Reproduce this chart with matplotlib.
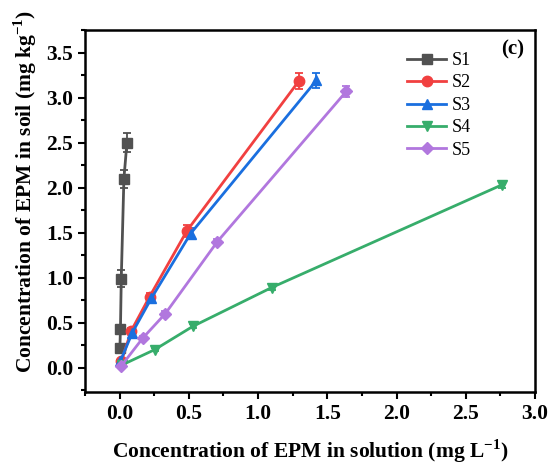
import matplotlib.pyplot as plt
from matplotlib.ticker import MultipleLocator

plt.rcParams['font.family'] = 'Liberation Serif'
plt.rcParams['font.weight'] = 'bold'
plt.rcParams['mathtext.fontset'] = 'custom'
plt.rcParams['mathtext.rm'] = 'Liberation Serif:bold'
plt.rcParams['mathtext.bf'] = 'Liberation Serif:bold'

# equilibrium concentrations: solution (mg/L) vs soil (mg/kg)
s1_x = [0.002, 0.006, 0.012, 0.031, 0.053]
s1_y = [0.22, 0.43, 0.99, 2.10, 2.50]
s1_err = [0.03, 0.03, 0.09, 0.10, 0.11]

s2_x = [0.012, 0.084, 0.217, 0.486, 1.293]
s2_y = [0.07, 0.41, 0.79, 1.52, 3.18]
s2_err = [0.02, 0.03, 0.04, 0.07, 0.09]

s3_x = [0.005, 0.092, 0.229, 0.513, 1.421]
s3_y = [0.07, 0.39, 0.77, 1.49, 3.19]
s3_err = [0.02, 0.03, 0.04, 0.06, 0.08]

s4_x = [0.017, 0.253, 0.530, 1.098, 2.760]
s4_y = [0.03, 0.20, 0.46, 0.89, 2.03]
s4_err = [0.01, 0.02, 0.02, 0.03, 0.04]

s5_x = [0.012, 0.168, 0.330, 0.706, 1.638]
s5_y = [0.02, 0.33, 0.60, 1.40, 3.07]
s5_err = [0.01, 0.02, 0.03, 0.03, 0.06]

names = ['S1', 'S2', 'S3', 'S4', 'S5']
colors = ['#515151', '#F14040', '#1A6FDF', '#37AD6B', '#B177DE']
markers = ['s', 'o', '^', 'v', 'D']

fig = plt.figure(figsize=(5.53, 4.68), dpi=100)
ax = fig.add_axes([0.1537, 0.1624, 0.8138, 0.7735])

series = [(s1_x, s1_y, s1_err), (s2_x, s2_y, s2_err), (s3_x, s3_y, s3_err),
          (s4_x, s4_y, s4_err), (s5_x, s5_y, s5_err)]
for (x, y, e), name, c, m in zip(series, names, colors, markers):
    ms = 6.5 if m == 'D' else 7.5
    ax.errorbar(x, y, yerr=e, color=c, marker=m, markersize=ms, linewidth=2,
                capsize=3, elinewidth=1.3, capthick=1.3, label=name)

ax.set_xlim(-0.25, 3.0)
ax.set_ylim(-0.27, 3.75)
ax.xaxis.set_major_locator(MultipleLocator(0.5))
ax.xaxis.set_minor_locator(MultipleLocator(0.25))
ax.yaxis.set_major_locator(MultipleLocator(0.5))
ax.yaxis.set_minor_locator(MultipleLocator(0.25))
ax.tick_params(which='major', direction='out', length=5, width=1.5, labelsize=15.5)
ax.tick_params(which='minor', direction='out', length=3, width=1.5)
for s in ax.spines.values():
    s.set_linewidth(1.8)

ax.set_xlabel('Concentration of EPM in solution (mg L$^{-1}$)',
              fontsize=15.5, fontweight='bold', labelpad=10)
ax.set_ylabel('Concentration of EPM in soil (mg kg$^{-1}$)',
              fontsize=15.5, fontweight='bold', labelpad=5)
ax.yaxis.label.set_y(0.555)

ax.text(0.975, 0.945, '(c)', transform=ax.transAxes, ha='right', va='center',
        fontsize=15, fontweight='bold')

handles, labels = ax.get_legend_handles_labels()
leg = ax.legend([h[0] for h in handles], labels, loc='upper left',
                bbox_to_anchor=(0.715, 0.939), frameon=False, fontsize=13,
                handlelength=2.2, labelspacing=0.3, handletextpad=0.3,
                borderpad=0, borderaxespad=0)
for t in leg.get_texts():
    t.set_fontweight('normal')

fig.savefig('out.png', dpi=100)
